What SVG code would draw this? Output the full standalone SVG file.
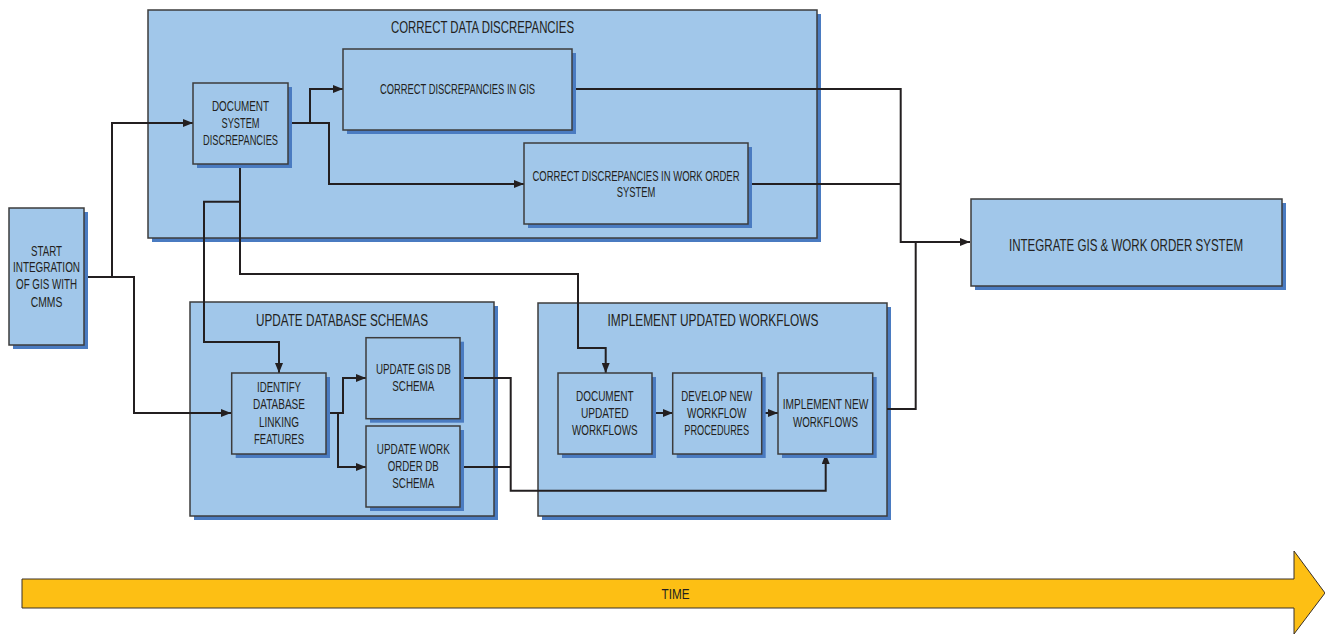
<svg xmlns="http://www.w3.org/2000/svg" width="1325" height="634" viewBox="0 0 1325 634">
<style>
.box{fill:#a1c7ea;stroke:#3c3c3c;stroke-width:1.5}
.shadow{fill:#4a7bc1}
.t{font-family:"Liberation Sans Narrow","Liberation Sans",Arial,sans-serif;font-size:14px;fill:#231f20;text-anchor:middle}
.h{font-family:"Liberation Sans Narrow","Liberation Sans",Arial,sans-serif;font-size:16.5px;fill:#231f20;text-anchor:middle}
.c{fill:none;stroke:#231f20;stroke-width:2}
</style>
<defs>
<marker id="arr" markerUnits="userSpaceOnUse" markerWidth="10" markerHeight="8" refX="10" refY="4" orient="auto">
<path d="M0,0 L10,4 L0,8 z" fill="#231f20"/>
</marker>
</defs>
<rect width="1325" height="634" fill="#ffffff"/>

<g id="grp-correct">
<rect class="shadow" x="152" y="14" width="669" height="228"/>
<rect class="box" x="148" y="10" width="669" height="228"/>
<text class="h" x="482.5" y="32.5" textLength="183" lengthAdjust="spacingAndGlyphs">CORRECT DATA DISCREPANCIES</text>
</g>
<g id="grp-update">
<rect class="shadow" x="194" y="306" width="304" height="214"/>
<rect class="box" x="190" y="302" width="304" height="214"/>
<text class="h" x="342" y="325.7" textLength="172" lengthAdjust="spacingAndGlyphs">UPDATE DATABASE SCHEMAS</text>
</g>
<g id="grp-implement">
<rect class="shadow" x="542" y="307" width="349" height="213"/>
<rect class="box" x="538" y="303" width="349" height="213"/>
<text class="h" x="713" y="325.7" textLength="211" lengthAdjust="spacingAndGlyphs">IMPLEMENT UPDATED WORKFLOWS</text>
</g>

<g id="connectors">
<polyline class="c" points="84,277 134,277 134,413 231,413" marker-end="url(#arr)"/>
<polyline class="c" points="112,277 112,123 193,123" marker-end="url(#arr)"/>
<polyline class="c" points="288,123 310,123 310,89 343,89" marker-end="url(#arr)"/>
<polyline class="c" points="310,123 329,123 329,184 524,184" marker-end="url(#arr)"/>
<polyline class="c" points="240,164 240,274 578,274 578,348 605.7,348 605.7,373" marker-end="url(#arr)"/>
<polyline class="c" points="240,201.7 204,201.7 204,342 279,342 279,373" marker-end="url(#arr)"/>
<polyline class="c" points="326,413 343,413 343,378 366,378" marker-end="url(#arr)"/>
<polyline class="c" points="338,413 338,467 366,467" marker-end="url(#arr)"/>
<polyline class="c" points="460,378 510.7,378 510.7,490.7 825.7,490.7 825.7,454" marker-end="url(#arr)"/>
<polyline class="c" points="460,467 510.7,467"/>
<polyline class="c" points="652,413 672.7,413" marker-end="url(#arr)"/>
<polyline class="c" points="761.7,413 778,413" marker-end="url(#arr)"/>
<polyline class="c" points="572,89 900.7,89 900.7,242 970,242" marker-end="url(#arr)"/>
<polyline class="c" points="748,184 900.7,184"/>
<polyline class="c" points="887,409 915.7,409 915.7,242"/>
</g>

<g id="start">
<rect class="shadow" x="13" y="212" width="75" height="137"/>
<rect class="box" x="9" y="208" width="75" height="137"/>
<text class="t" x="46.5" y="255.7" textLength="31" lengthAdjust="spacingAndGlyphs">START</text>
<text class="t" x="46.5" y="272.3" textLength="67" lengthAdjust="spacingAndGlyphs">INTEGRATION</text>
<text class="t" x="46.5" y="289.3" textLength="61" lengthAdjust="spacingAndGlyphs">OF GIS WITH</text>
<text class="t" x="46.5" y="306.7" textLength="31.6" lengthAdjust="spacingAndGlyphs">CMMS</text>
</g>
<g id="doc-system">
<rect class="shadow" x="197" y="87" width="95" height="81"/>
<rect class="box" x="193" y="83" width="95" height="81"/>
<text class="t" x="240.5" y="111" textLength="57" lengthAdjust="spacingAndGlyphs">DOCUMENT</text>
<text class="t" x="240.5" y="128" textLength="38" lengthAdjust="spacingAndGlyphs">SYSTEM</text>
<text class="t" x="240.5" y="145" textLength="75" lengthAdjust="spacingAndGlyphs">DISCREPANCIES</text>
</g>
<g id="correct-gis">
<rect class="shadow" x="347" y="53" width="229" height="81"/>
<rect class="box" x="343" y="49" width="229" height="81"/>
<text class="t" x="457.5" y="94.3" textLength="155" lengthAdjust="spacingAndGlyphs">CORRECT DISCREPANCIES IN GIS</text>
</g>
<g id="correct-wo">
<rect class="shadow" x="528" y="147" width="224" height="81"/>
<rect class="box" x="524" y="143" width="224" height="81"/>
<text class="t" x="636" y="180.7" textLength="207" lengthAdjust="spacingAndGlyphs">CORRECT DISCREPANCIES IN WORK ORDER</text>
<text class="t" x="636" y="197.3" textLength="38.6" lengthAdjust="spacingAndGlyphs">SYSTEM</text>
</g>
<g id="integrate">
<rect class="shadow" x="975" y="203" width="311" height="87"/>
<rect class="box" x="971" y="199" width="311" height="87"/>
<text class="h" x="1126" y="251" textLength="234" lengthAdjust="spacingAndGlyphs">INTEGRATE GIS &amp; WORK ORDER SYSTEM</text>
</g>
<g id="identify">
<rect class="shadow" x="235.7" y="377" width="94.3" height="81"/>
<rect class="box" x="231.7" y="373" width="94.3" height="81"/>
<text class="t" x="279" y="392.3" textLength="44" lengthAdjust="spacingAndGlyphs">IDENTIFY</text>
<text class="t" x="279" y="409.3" textLength="52" lengthAdjust="spacingAndGlyphs">DATABASE</text>
<text class="t" x="279" y="426.7" textLength="40" lengthAdjust="spacingAndGlyphs">LINKING</text>
<text class="t" x="279" y="443.7" textLength="50" lengthAdjust="spacingAndGlyphs">FEATURES</text>
</g>
<g id="update-gis-db">
<rect class="shadow" x="370" y="341.7" width="94" height="81"/>
<rect class="box" x="366" y="337.7" width="94" height="81"/>
<text class="t" x="413.3" y="374.3" textLength="74.7" lengthAdjust="spacingAndGlyphs">UPDATE GIS DB</text>
<text class="t" x="413.3" y="391" textLength="42" lengthAdjust="spacingAndGlyphs">SCHEMA</text>
</g>
<g id="update-wo-db">
<rect class="shadow" x="370" y="430" width="94" height="81"/>
<rect class="box" x="366" y="426" width="94" height="81"/>
<text class="t" x="413.3" y="454" textLength="73" lengthAdjust="spacingAndGlyphs">UPDATE WORK</text>
<text class="t" x="413.3" y="471.3" textLength="51" lengthAdjust="spacingAndGlyphs">ORDER DB</text>
<text class="t" x="413.3" y="488.3" textLength="42" lengthAdjust="spacingAndGlyphs">SCHEMA</text>
</g>
<g id="doc-updated">
<rect class="shadow" x="562" y="377" width="94" height="81"/>
<rect class="box" x="558" y="373" width="94" height="81"/>
<text class="t" x="604.8" y="401" textLength="57.7" lengthAdjust="spacingAndGlyphs">DOCUMENT</text>
<text class="t" x="604.8" y="418.3" textLength="47.7" lengthAdjust="spacingAndGlyphs">UPDATED</text>
<text class="t" x="604.8" y="435" textLength="65.7" lengthAdjust="spacingAndGlyphs">WORKFLOWS</text>
</g>
<g id="develop">
<rect class="shadow" x="676.7" y="377" width="89" height="81"/>
<rect class="box" x="672.7" y="373" width="89" height="81"/>
<text class="t" x="716.7" y="401" textLength="70.7" lengthAdjust="spacingAndGlyphs">DEVELOP NEW</text>
<text class="t" x="716.7" y="418.3" textLength="59.3" lengthAdjust="spacingAndGlyphs">WORKFLOW</text>
<text class="t" x="716.7" y="435" textLength="64.7" lengthAdjust="spacingAndGlyphs">PROCEDURES</text>
</g>
<g id="implement-new">
<rect class="shadow" x="782" y="377" width="94.7" height="81"/>
<rect class="box" x="778" y="373" width="94.7" height="81"/>
<text class="t" x="825.5" y="409.3" textLength="85.7" lengthAdjust="spacingAndGlyphs">IMPLEMENT NEW</text>
<text class="t" x="825.5" y="426.7" textLength="65" lengthAdjust="spacingAndGlyphs">WORKFLOWS</text>
</g>

<g id="time">
<polygon points="22,579 1294,579 1294,551 1325,593 1294,634 1294,608 22,608" fill="#fdbf14" stroke="#3a3028" stroke-width="1"/>
<text class="t" x="675.6" y="599" textLength="28" lengthAdjust="spacingAndGlyphs">TIME</text>
</g>
</svg>
